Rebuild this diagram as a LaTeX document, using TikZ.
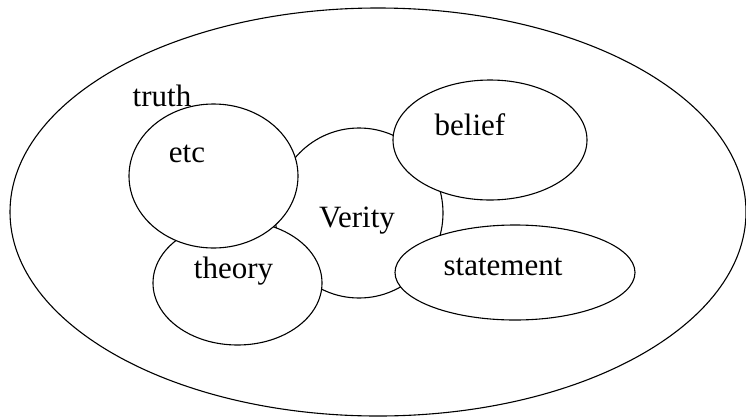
\documentclass[tikz,border=0pt]{standalone}
\usepackage{fontspec}
\setmainfont{Liberation Serif}
\begin{document}
\begin{tikzpicture}[x=1pt,y=-1pt,
  shp/.style={draw=black,fill=white,line width=1.1pt},
  lbl/.style={font=\fontsize{31}{31}\selectfont,inner sep=0pt,anchor=base}]
\useasboundingbox (0,0) rectangle (746,418);
\draw[shp] (378,212) ellipse [x radius=368, y radius=204];
\node[lbl] (truth) at (162,106) {truth};
\draw[shp] (359,213) ellipse [x radius=84, y radius=85];
\coordinate (verity) at (359,213);
\draw[shp] (237.5,283) ellipse [x radius=84.5, y radius=62];
\coordinate (theory) at (237.5,283);
\draw[shp] (213.5,176) ellipse [x radius=84.5, y radius=72];
\coordinate (etc) at (213.5,176);
\draw[shp] (490,140) ellipse [x radius=97, y radius=60];
\coordinate (belief) at (490,140);
\draw[shp] (515,272.5) ellipse [x radius=120, y radius=47.5];
\coordinate (statement) at (515,272.5);
\node[lbl] (tverity) at (357,227) {Verity};
\node[lbl] (tetc) at (187,162) {etc};
\node[lbl] (ttheory) at (233.5,278) {theory};
\node[lbl] (tbelief) at (470,135) {belief};
\node[lbl] (tstatement) at (503,275) {statement};
\end{tikzpicture}
\end{document}
